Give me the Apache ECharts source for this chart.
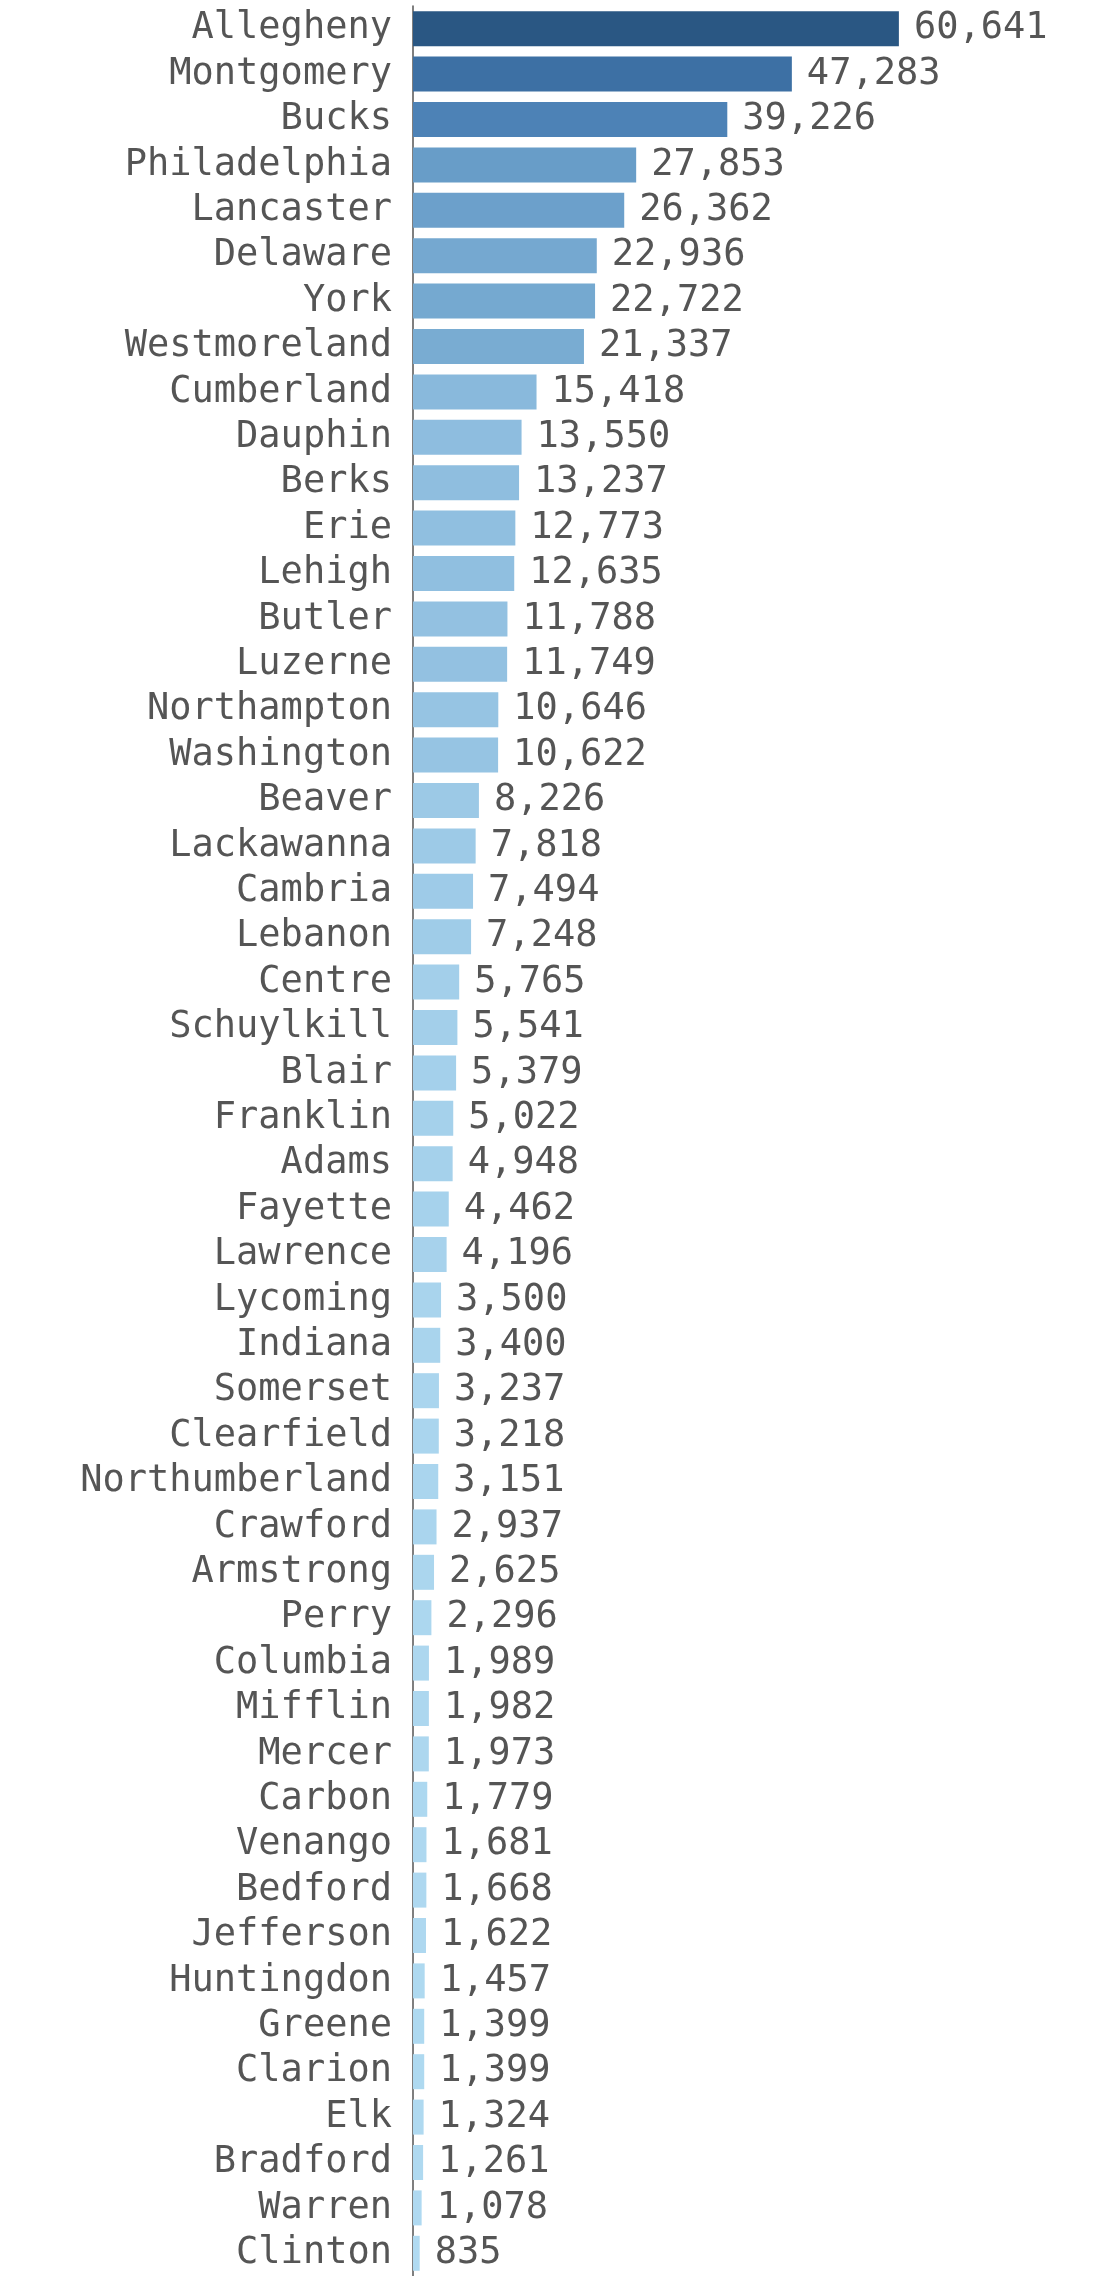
<!DOCTYPE html>
<html>
<head>
<meta charset="utf-8">
<script src="https://cdn.jsdelivr.net/npm/echarts@6/dist/echarts.min.js"></script>
<style>
  html, body { margin: 0; padding: 0; background: #ffffff; }
  #chart { width: 1112px; height: 2276px; }
</style>
</head>
<body>
<div id="chart"></div>
<script>
const counties = ["Allegheny","Montgomery","Bucks","Philadelphia","Lancaster","Delaware","York","Westmoreland","Cumberland","Dauphin","Berks","Erie","Lehigh","Butler","Luzerne","Northampton","Washington","Beaver","Lackawanna","Cambria","Lebanon","Centre","Schuylkill","Blair","Franklin","Adams","Fayette","Lawrence","Lycoming","Indiana","Somerset","Clearfield","Northumberland","Crawford","Armstrong","Perry","Columbia","Mifflin","Mercer","Carbon","Venango","Bedford","Jefferson","Huntingdon","Greene","Clarion","Elk","Bradford","Warren","Clinton"];
const values = [60641,47283,39226,27853,26362,22936,22722,21337,15418,13550,13237,12773,12635,11788,11749,10646,10622,8226,7818,7494,7248,5765,5541,5379,5022,4948,4462,4196,3500,3400,3237,3218,3151,2937,2625,2296,1989,1982,1973,1779,1681,1668,1622,1457,1399,1399,1324,1261,1078,835];
const colorStops = ['#b0daf1','#90bfe0','#70a4cd','#5288bb','#3a6da1','#2a5783'];

const chart = echarts.init(document.getElementById('chart'), null, { renderer: 'canvas' });
const FONT = "'DejaVu Sans Mono', 'Liberation Mono', monospace";
chart.setOption({
  backgroundColor: '#ffffff',
  animation: false,
  grid: { left: 413, top: 6, width: 641, height: 2285 },
  visualMap: {
    show: false,
    type: 'continuous',
    dimension: 0,
    min: Math.min(...values),
    max: Math.max(...values),
    inRange: { color: colorStops }
  },
  xAxis: {
    type: 'value',
    min: 0,
    max: 80000,
    show: false
  },
  yAxis: {
    type: 'category',
    data: counties,
    inverse: true,
    axisLine: { show: true, lineStyle: { color: '#555555', width: 1.5 } },
    axisTick: { show: false },
    axisLabel: {
      interval: 0,
      hideOverlap: false,
      color: '#555555',
      fontFamily: FONT,
      fontSize: 37,
      margin: 21
    }
  },
  series: [{
    type: 'bar',
    data: values,
    barWidth: 35,
    label: {
      show: true,
      position: 'right',
      distance: 15,
      color: '#555555',
      fontFamily: FONT,
      fontSize: 37,
      formatter: p => p.value.toLocaleString('en-US')
    }
  }]
});
</script>
</body>
</html>
